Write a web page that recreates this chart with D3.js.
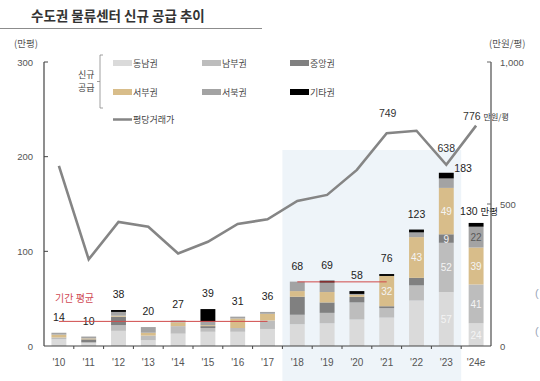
<!DOCTYPE html>
<html><head><meta charset="utf-8">
<script src="https://cdnjs.cloudflare.com/ajax/libs/d3/7.8.5/d3.min.js"></script>
<style>
body{margin:0;background:#fff;}
svg{display:block;font-family:"Liberation Sans","Noto Sans CJK KR",sans-serif;}
</style></head>
<body><svg id="c" width="540" height="381"></svg>
<script>
const years = ["'10","'11","'12","'13","'14","'15","'16","'17","'18","'19","'20","'21","'22","'23","'24e"];
const seriesNames = ["동남권","남부권","중앙권","서부권","서북권","기타권"];
const seriesColors = ["#dadada","#bdbdbd","#808080","#d8bd8a","#a3a3a3","#000000"];
const dongnam = [7,3,16,6,13,15,15,18,23,24,28,30,48,57,24];
const nambu   = [2,1,6,5,8,4,4,9,10,11,18,10,16,52,41];
const jungang = [0,3,9,0,0,2,0,0,19,11,6,2,8,9,0];
const seobu   = [3,1,1,3,4,1,10,7,6,11,2,32,43,49,39];
const seobuk  = [2,2,4,6,2,4,2,2,10,10,1,0,5,10,22];
const gita    = [0,0,2,0,0,13,0,0,0,2,3,2,3,6,4];
const price   = [634,305,437,420,326,367,430,446,511,532,620,749,758,638,776];
const priceLabeled = ["'21","'23","'24e"];
const leftTicks = [0,100,200,300];
const rightTicks = [0,500,1000];
const rightTickLabels = ["0","500","1,000"];
const avgPeriods = [{from:"'10",to:"'17",value:26},{from:"'18",to:"'21",value:67.75}];
const insideLabels = [["'21",3],["'22",3],["'23",0],["'23",1],["'23",2],["'23",3],["'24e",0],["'24e",1],["'24e",3],["'24e",4]];

const svg = d3.select("#c");
const x = d3.scaleBand().domain(years).range([44,491]).padding(0);
const y = d3.scaleLinear().domain([0,300]).range([346,62]);
const y2 = d3.scaleLinear().domain([0,1000]).range([346,62]);
const bw = x.bandwidth()*0.5;
const cx = d => x(d)+x.bandwidth()/2;

// shaded
svg.append("rect").attr("x",x("'18")).attr("y",150).attr("width",x("'23")+x.bandwidth()-x("'18")).attr("height",231).attr("fill","#eef4f9");

// title
svg.append("text").attr("x",31).attr("y",21).attr("font-size",13.5).attr("font-weight",700).attr("fill","#333")
  .attr("font-family","Noto Sans CJK KR").text("수도권 물류센터 신규 공급 추이");
svg.append("line").attr("x1",0).attr("x2",262).attr("y1",28.5).attr("y2",28.5).attr("stroke","#8c8c8c").attr("stroke-width",1);

// stacked data
const seriesData = [dongnam,nambu,jungang,seobu,seobuk,gita];
const rows = years.map((yr,i)=>{const o={year:yr}; seriesNames.forEach((s,k)=>o[s]=seriesData[k][i]); return o;});
const stack = d3.stack().keys(seriesNames)(rows);
const g = svg.append("g");
stack.forEach((layer,k)=>{
  g.selectAll(null).data(layer).enter().append("rect")
   .attr("x",d=>cx(d.data.year)-bw/2).attr("width",bw)
   .attr("y",d=>y(d[1])).attr("height",d=>y(d[0])-y(d[1]))
   .attr("fill",seriesColors[k]);
});

// inside labels
insideLabels.forEach(([yr,k])=>{
  const i = years.indexOf(yr); const seg = stack[k][i];
  svg.append("text").attr("x",cx(yr)).attr("y",(y(seg[0])+y(seg[1]))/2+4)
    .attr("text-anchor","middle").attr("font-size",10)
    .attr("fill", k===4 ? "#5a5a5a" : "#f4f4f4").text(seriesData[k][i]);
});

// totals
const totals = years.map((yr,i)=>d3.sum(seriesData,s=>s[i]));
years.forEach((yr,i)=>{
  const t = totals[i];
  if(yr==="'23"){
    svg.append("text").attr("x",cx(yr)+8).attr("y",y(t)-0.5).attr("font-size",10.5).attr("fill","#222").text(t);
  } else if(yr==="'24e"){
    const tx = svg.append("text").attr("x",cx(yr)-16).attr("y",y(t)-8).attr("font-size",10.5).attr("fill","#222");
    tx.append("tspan").text(t+" ");
    tx.append("tspan").attr("font-family","Noto Sans CJK KR").attr("font-size",9.5).text("만평");
  } else {
    svg.append("text").attr("x",cx(yr)).attr("y",y(t)-12).attr("text-anchor","middle").attr("font-size",10.5).attr("fill","#222").text(t);
  }
});

// average lines
avgPeriods.forEach(p=>{
  svg.append("line").attr("x1",cx(p.from)).attr("x2",cx(p.to)).attr("y1",y(p.value)).attr("y2",y(p.value))
    .attr("stroke","#d04a4a").attr("stroke-width",1);
});
svg.append("text").attr("x",55).attr("y",302).attr("font-size",10).attr("fill","#d04a55")
  .attr("font-family","Noto Sans CJK KR").text("기간 평균");

// price line
svg.append("path").datum(price).attr("fill","none").attr("stroke","#858585").attr("stroke-width",2.6)
  .attr("stroke-linejoin","miter")
  .attr("d",d3.line().x((d,i)=>cx(years[i])).y(d=>y2(d)));
priceLabeled.forEach(yr=>{
  const i = years.indexOf(yr);
  if(yr==="'24e"){
    const tx = svg.append("text").attr("x",cx(yr)-13).attr("y",y2(price[i])-6).attr("font-size",10.5).attr("fill","#333");
    tx.append("tspan").text(price[i]+" ");
    tx.append("tspan").attr("font-family","Noto Sans CJK KR").attr("font-size",8).text("만원/평");
  } else if(yr==="'23"){
    svg.append("text").attr("x",cx(yr)).attr("y",y2(price[i])-13).attr("text-anchor","middle").attr("font-size",10.5).attr("fill","#333").text(price[i]);
  } else {
    svg.append("text").attr("x",cx(yr)+1).attr("y",y2(price[i])-16).attr("text-anchor","middle").attr("font-size",10.5).attr("fill","#333").text(price[i]);
  }
});

// axes
const axCol = "#444";
svg.append("line").attr("x1",44).attr("x2",44).attr("y1",y(300)).attr("y2",y(0)).attr("stroke",axCol).attr("stroke-width",1.2);
svg.append("line").attr("x1",491).attr("x2",491).attr("y1",y2(1000)).attr("y2",y2(0)).attr("stroke","#666").attr("stroke-width",1.4);
svg.append("line").attr("x1",44).attr("x2",491).attr("y1",y(0)).attr("y2",y(0)).attr("stroke",axCol).attr("stroke-width",1.2);
leftTicks.forEach(t=>{
  if(t>0) svg.append("line").attr("x1",44).attr("x2",48).attr("y1",y(t)).attr("y2",y(t)).attr("stroke",axCol);
  svg.append("text").attr("x",t===0?33:33).attr("y",y(t)+3.5).attr("text-anchor","end").attr("font-size",9.5).attr("fill","#555").text(t);
});
rightTicks.forEach((t,i)=>{
  if(t>0) svg.append("line").attr("x1",487).attr("x2",491).attr("y1",y2(t)).attr("y2",y2(t)).attr("stroke","#666");
  svg.append("text").attr("x",500).attr("y",y2(t)+3.5).attr("font-size",9.5).attr("fill","#555").text(rightTickLabels[i]);
});
years.forEach((yr,i)=>{
  if(i>0) svg.append("line").attr("x1",x(yr)).attr("x2",x(yr)).attr("y1",y(0)).attr("y2",y(0)+3).attr("stroke",axCol);
  svg.append("text").attr("x",cx(yr)).attr("y",366).attr("text-anchor","middle").attr("font-size",10).attr("fill","#555").text(yr);
});
svg.append("text").attr("x",14).attr("y",47).attr("font-size",9.5).attr("fill","#555").attr("font-family","Noto Sans CJK KR").text("(만평)");
svg.append("text").attr("x",489).attr("y",47).attr("font-size",9.5).attr("fill","#555").attr("font-family","Noto Sans CJK KR").text("(만원/평)");

// legend
const lg = svg.append("g").attr("font-family","Noto Sans CJK KR").attr("font-size",9).attr("fill","#444");
lg.append("path").attr("d","M103,55 H100 V108 H103 M100,81.5 H97").attr("fill","none").attr("stroke","#888").attr("stroke-width",0.8);
lg.append("text").attr("x",78).attr("y",78).text("신규");
lg.append("text").attr("x",78).attr("y",91).text("공급");
const legPos = [[113,63],[202,63],[290,63],[113,92],[202,92],[290,92]];
const legOrder = [0,1,2,3,4,5];
legOrder.forEach((k,j)=>{
  const [lx,ly] = legPos[j];
  lg.append("rect").attr("x",lx).attr("y",ly-3).attr("width",19).attr("height",6).attr("fill",seriesColors[k]);
  lg.append("text").attr("x",lx+20).attr("y",ly+3.5).text(seriesNames[k]);
});
lg.append("line").attr("x1",113).attr("x2",132).attr("y1",119.5).attr("y2",119.5).attr("stroke","#858585").attr("stroke-width",2.5);
lg.append("text").attr("x",133).attr("y",123).text("평당거래가");

// cropped neighbour glyphs at right edge
svg.append("text").attr("x",535).attr("y",297).attr("font-size",11).attr("fill","#9aa6b8").text("(");
svg.append("text").attr("x",535).attr("y",335).attr("font-size",11).attr("fill","#9aa6b8").text("(");
</script></body></html>
